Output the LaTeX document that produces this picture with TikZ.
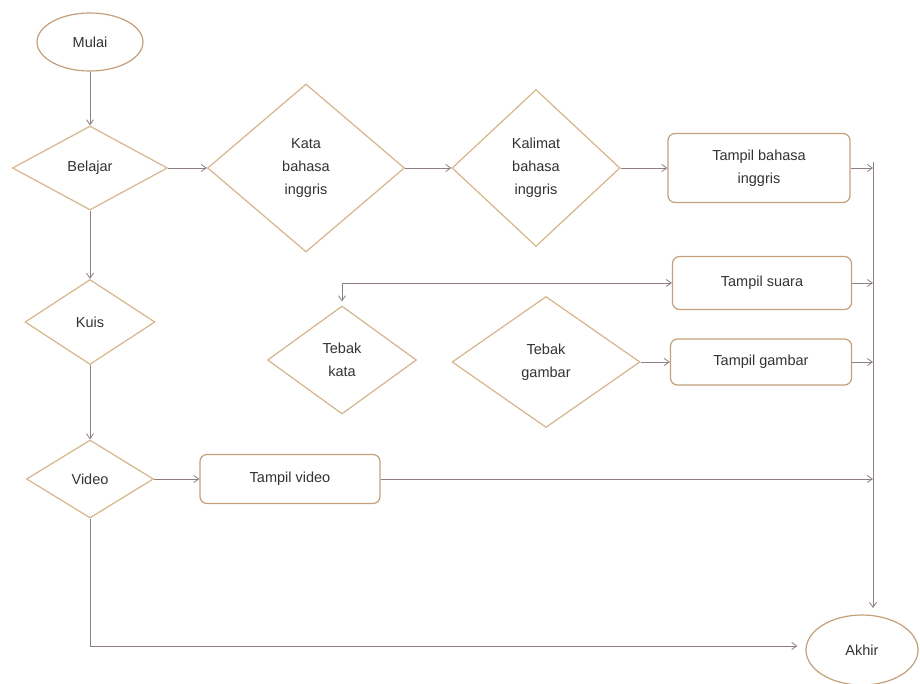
\documentclass[tikz,border=0pt]{standalone}
\usepackage{fontspec}
\setmainfont{Liberation Sans}
\usetikzlibrary{shapes.geometric,arrows.meta}
\definecolor{dborder}{HTML}{D6B68A}
\definecolor{bborder}{HTML}{C4A07A}
\definecolor{lcol}{HTML}{8E8080}
\begin{document}
\begin{tikzpicture}[x=1pt,y=-1pt,
  every node/.style={font=\fontsize{14.5}{23}\selectfont, text=black!80},
  dec/.style={diamond, draw=dborder, line width=1.2pt, fill=white, inner sep=0pt, align=center},
  procbox/.style={rectangle, rounded corners=7pt, draw=bborder, line width=1.2pt, fill=white, inner sep=0pt, align=center},
  term/.style={ellipse, draw=bborder, line width=1.2pt, fill=white, inner sep=0pt},
  conn/.style={draw=lcol, line width=0.8pt, -{Straight Barb[length=5pt,width=7pt]}}
]
\useasboundingbox (0,0) rectangle (920,684);
\fill[white] (0,0) rectangle (920,684);

% nodes
\node[term, minimum width=106pt, minimum height=58pt] (mulai) at (90,42) {Mulai};
\node[dec, minimum width=155pt, minimum height=84pt] (belajar) at (90,168) {Belajar};
\node[dec, minimum width=197pt, minimum height=168pt] (kata) at (306,168) {Kata\\bahasa\\inggris};
\node[dec, minimum width=168pt, minimum height=157pt] (kalimat) at (536,168) {Kalimat\\bahasa\\inggris};
\node[procbox, minimum width=182pt, minimum height=69pt] (tbi) at (759,168) {Tampil bahasa\\inggris};
\node[procbox, minimum width=179pt, minimum height=53pt] (tsuara) at (762,283) {Tampil suara};
\node[dec, minimum width=149pt, minimum height=108pt] (tkata) at (342,360) {Tebak\\kata};
\node[dec, minimum width=188pt, minimum height=131pt] (tgambar) at (546,362) {Tebak\\gambar};
\node[procbox, minimum width=181pt, minimum height=46pt] (tgbr) at (761,362) {Tampil gambar};
\node[dec, minimum width=130pt, minimum height=85pt] (kuis) at (90,322) {Kuis};
\node[dec, minimum width=127pt, minimum height=78pt] (video) at (90,479) {Video};
\node[procbox, minimum width=180pt, minimum height=49pt] (tvideo) at (290,479) {Tampil video};
\node[term, minimum width=112pt, minimum height=70pt] (akhir) at (862,650) {Akhir};

% collector line coordinates
\coordinate (ctop) at (873,162);
\coordinate (cbi) at (873,168);
\coordinate (csu) at (873,283);
\coordinate (cgb) at (873,362);
\coordinate (cvd) at (873,479);
\coordinate (cbot) at (873,608);
\coordinate (vcorner) at (90,646);

% connectors
\draw[conn] (mulai) -- (belajar);
\draw[conn] (belajar) -- (kata);
\draw[conn] (kata) -- (kalimat);
\draw[conn] (kalimat) -- (tbi);
\draw[conn] (belajar) -- (kuis);
\draw[conn] (kuis) -- (video);
\draw[conn] (video) -- (tvideo);
\draw[conn] (tgambar) -- (tgbr);
\draw[conn, {Straight Barb[length=5pt,width=7pt]}-{Straight Barb[length=5pt,width=7pt]}, shorten <=4pt] (tkata.north) |- (tsuara.west);

\draw[conn] (tbi.east) -- (cbi);
\draw[conn] (tsuara.east) -- (csu);
\draw[conn] (tgbr.east) -- (cgb);
\draw[conn] (tvideo.east) -- (cvd);
\draw[conn] (ctop) -- (cbot);
\draw[conn, shorten >=8pt] (video.south) -- (vcorner) -- (vcorner -| akhir.west);
\end{tikzpicture}
\end{document}
